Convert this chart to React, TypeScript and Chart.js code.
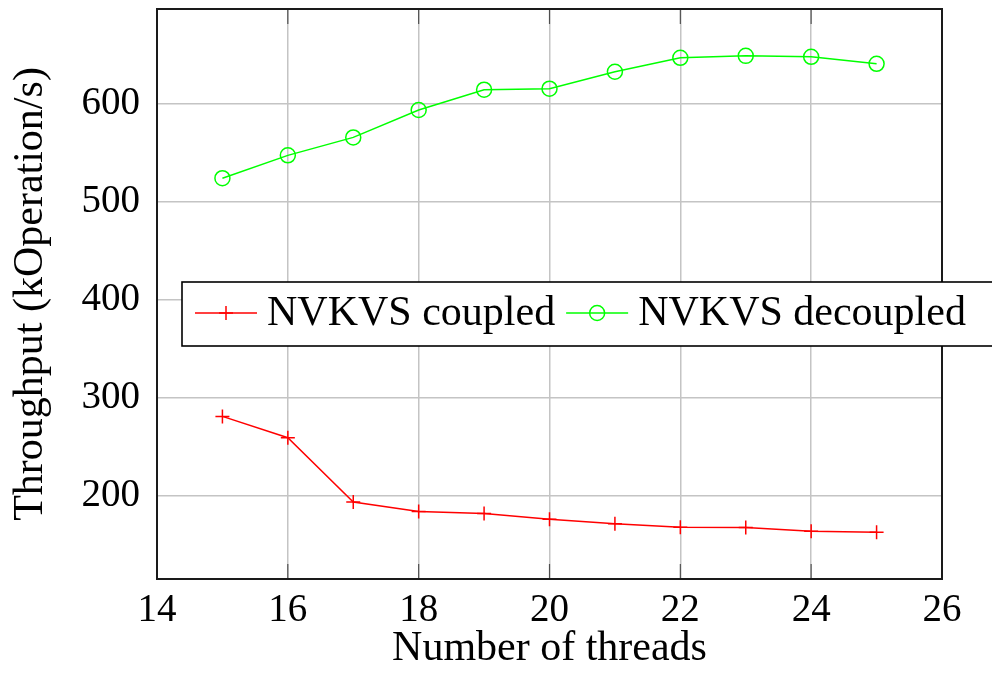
import React, { useEffect, useRef } from 'react';
import { Chart, registerables } from 'chart.js';

Chart.register(...registerables);

// ---- data ----
const threads = [15, 16, 17, 18, 19, 20, 21, 22, 23, 24, 25];
const coupled = [280.9, 259.1, 193.5, 183.8, 181.7, 176.0, 171.3, 167.8, 167.5, 163.8, 162.8];
const decoupled = [523.9, 547.2, 565.5, 593.5, 614.2, 615.2, 632.5, 646.7, 648.7, 647.7, 640.6];
const xTicks = [14, 16, 18, 20, 22, 24, 26];
const yTicks = [200, 300, 400, 500, 600];
const seriesLabels = ['NVKVS coupled', 'NVKVS decoupled'];
const xTitle = 'Number of threads';
const yTitle = 'Throughput (kOperation/s)';

const FONT = '"Liberation Serif", "Times New Roman", serif';
const RED = 'rgb(255,0,0)';
const GREEN = 'rgb(0,255,0)';

const framePlugin = {
  id: 'pgfFrame',
  afterDatasetsDraw(chart: any) {
    const { ctx, chartArea: a, scales } = chart;
    ctx.save();
    // inner tick marks on bottom and top (x axis only)
    ctx.strokeStyle = 'rgba(0,0,0,0.6)';
    ctx.lineWidth = 1.2;
    for (const t of scales.x.ticks) {
      const px = scales.x.getPixelForValue(t.value);
      ctx.beginPath();
      ctx.moveTo(px, a.bottom);
      ctx.lineTo(px, a.bottom - 15);
      ctx.moveTo(px, a.top);
      ctx.lineTo(px, a.top + 15);
      ctx.stroke();
    }
    // frame
    ctx.strokeStyle = '#1a1a1a';
    ctx.lineWidth = 2;
    ctx.strokeRect(a.left, a.top, a.right - a.left, a.bottom - a.top);
    ctx.restore();
  },
  afterDraw(chart: any) {
    const { ctx } = chart;
    const lx = 182;
    const ly = 282;
    const lh = 64;
    ctx.save();
    ctx.fillStyle = '#ffffff';
    ctx.fillRect(lx, ly, 1010 - lx, lh);
    ctx.strokeStyle = '#000000';
    ctx.lineWidth = 1.6;
    ctx.strokeRect(lx, ly, 1010 - lx, lh);
    let x = lx + 13;
    const cy = ly + 31;
    ctx.font = `42px ${FONT}`;
    chart.data.datasets.forEach((ds: any) => {
      ctx.strokeStyle = ds.borderColor;
      ctx.lineWidth = 1.5;
      ctx.beginPath();
      ctx.moveTo(x, cy);
      ctx.lineTo(x + 62, cy);
      ctx.stroke();
      const mx = x + 31;
      ctx.beginPath();
      if (ds.pointStyle === 'cross') {
        ctx.moveTo(mx - 7, cy);
        ctx.lineTo(mx + 7, cy);
        ctx.moveTo(mx, cy - 7);
        ctx.lineTo(mx, cy + 7);
      } else {
        ctx.arc(mx, cy, 7.5, 0, Math.PI * 2);
      }
      ctx.stroke();
      x += 72;
      ctx.fillStyle = '#000000';
      ctx.textBaseline = 'alphabetic';
      ctx.textAlign = 'left';
      ctx.fillText(ds.label, x, ly + 43);
      x += ctx.measureText(ds.label).width + 11;
    });
    ctx.restore();
  },
};

export default function App() {
  const canvasRef = useRef<HTMLCanvasElement | null>(null);

  useEffect(() => {
    document.body.style.margin = '0';
    const canvas = canvasRef.current;
    if (!canvas) return;
    const chart = new Chart(canvas, {
      type: 'line',
      data: {
        datasets: [
          {
            label: seriesLabels[0],
            data: threads.map((x, i) => ({ x, y: coupled[i] })),
            borderColor: RED,
            backgroundColor: 'rgba(0,0,0,0)',
            borderWidth: 1.5,
            pointStyle: 'cross',
            pointRadius: 7,
            pointBorderWidth: 1.5,
            pointBorderColor: RED,
            pointBackgroundColor: 'rgba(0,0,0,0)',
            tension: 0,
            fill: false,
          },
          {
            label: seriesLabels[1],
            data: threads.map((x, i) => ({ x, y: decoupled[i] })),
            borderColor: GREEN,
            backgroundColor: 'rgba(0,0,0,0)',
            borderWidth: 1.5,
            pointStyle: 'circle',
            pointRadius: 7.5,
            pointBorderWidth: 1.5,
            pointBorderColor: GREEN,
            pointBackgroundColor: 'rgba(0,0,0,0)',
            tension: 0,
            fill: false,
          },
        ],
      },
      options: {
        animation: false,
        responsive: false,
        maintainAspectRatio: false,
        layout: { padding: { left: 0, right: 50, top: 6, bottom: 0 } },
        plugins: {
          legend: { display: false },
          tooltip: { enabled: false },
          title: { display: false },
        },
        scales: {
          x: {
            type: 'linear',
            min: 14,
            max: 26,
            afterBuildTicks: (s: any) => {
              s.ticks = xTicks.map((v) => ({ value: v }));
            },
            afterFit: (s: any) => {
              s.height = 102;
              s.paddingLeft = 0;
              s.paddingRight = 0;
            },
            ticks: {
              autoSkip: false,
              maxRotation: 0,
              minRotation: 0,
              padding: 8,
              color: '#000000',
              font: { family: FONT, size: 39 },
            },
            grid: { color: '#c4c4c4', lineWidth: 1.5, drawTicks: false },
            border: { display: false },
            title: {
              display: true,
              text: xTitle,
              color: '#000000',
              font: { family: FONT, size: 42 },
              padding: { top: 0, bottom: 7 },
            },
          },
          y: {
            type: 'linear',
            min: 115,
            max: 696.5,
            afterBuildTicks: (s: any) => {
              s.ticks = yTicks.map((v) => ({ value: v }));
            },
            afterFit: (s: any) => {
              s.width = 157;
              s.paddingTop = 0;
              s.paddingBottom = 0;
            },
            ticks: {
              padding: 17,
              color: '#000000',
              font: { family: FONT, size: 39 },
            },
            grid: { color: '#c4c4c4', lineWidth: 1.5, drawTicks: false },
            border: { display: false },
            title: {
              display: true,
              text: yTitle,
              color: '#000000',
              font: { family: FONT, size: 42 },
              padding: { top: 6, bottom: 0 },
            },
          },
        },
      },
      plugins: [framePlugin],
    } as any);
    return () => chart.destroy();
  }, []);

  return (
    <div style={{ position: 'absolute', left: 0, top: 0, width: 992, height: 681, background: '#fff' }}>
      <canvas ref={canvasRef} width={992} height={681} style={{ display: 'block' }} />
    </div>
  );
}
